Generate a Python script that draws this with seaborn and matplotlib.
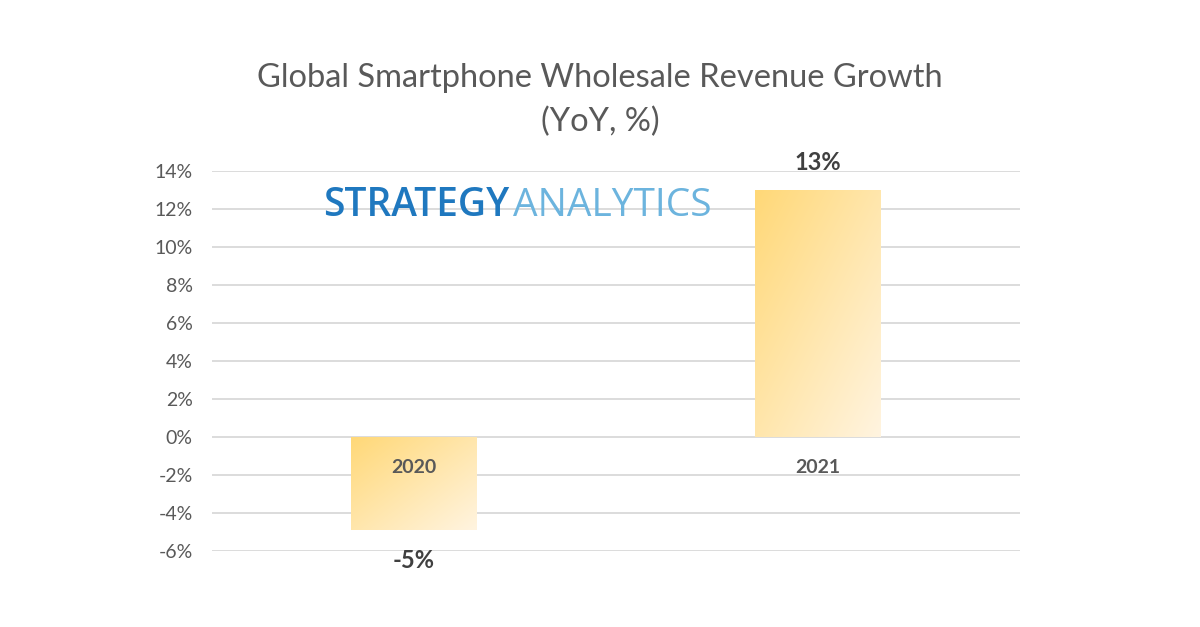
import numpy as np
import pandas as pd
import matplotlib
matplotlib.use("Agg")
import matplotlib.pyplot as plt
from matplotlib.colors import LinearSegmentedColormap
import seaborn as sns

# 数据
years = ["2020", "2021"]
growth = [-4.9, 13.0]
value_labels = ["-5%", "13%"]
y_ticks = [-6, -4, -2, 0, 2, 4, 6, 8, 10, 12, 14]

TEXT_GRAY = "#595959"
DARK_GRAY = "#404040"
GRID_GRAY = "#d9d9d9"

sns.set_theme(style="white")
plt.rcParams["font.family"] = ["Lato", "DejaVu Sans"]

df = pd.DataFrame({"year": years, "growth": growth})

fig = plt.figure(figsize=(12, 6.27), dpi=100)
ax = fig.add_axes([0.1767, 0.1212, 0.6733, 0.6061])

sns.barplot(data=df, x="year", y="growth", color="#ffe4a6", width=0.31,
            ax=ax, zorder=2)

# 渐变填充：左上深黄 -> 右下浅黄
grad_cmap = LinearSegmentedColormap.from_list("bar_grad", ["#ffd877", "#fff4e0"])
gx, gy = np.meshgrid(np.linspace(0, 1, 200), np.linspace(0, 1, 200))
grad = gx * 0.5 + gy * 0.5
for p in ax.patches:
    x0, y0 = p.get_x(), p.get_y()
    w, h = p.get_width(), p.get_height()
    ybot, ytop = min(y0, y0 + h), max(y0, y0 + h)
    p.set_facecolor("none")
    p.set_edgecolor("none")
    im = ax.imshow(grad, cmap=grad_cmap, extent=[x0, x0 + w, ybot, ytop],
                   origin="upper", aspect="auto", zorder=2, interpolation="bicubic")
    im.set_clip_path(p)

ax.set_xlim(-0.5, 1.5)
ax.set_ylim(-6, 14)
ax.set_yticks(y_ticks)
ax.set_yticklabels([f"{t}%" for t in y_ticks], fontsize=14, color=TEXT_GRAY)
ax.tick_params(axis="y", length=0, pad=14)
ax.set_xticks([])
ax.set_xlabel("")
ax.set_ylabel("")
for s in ax.spines.values():
    s.set_visible(False)
ax.yaxis.grid(True, color=GRID_GRAY, linewidth=1.3, zorder=0)
ax.set_axisbelow(True)

# 类别标签与数值标签
for i, (yr, v, lab) in enumerate(zip(years, growth, value_labels)):
    ax.text(i, -1.6, yr, ha="center", va="center", fontsize=14,
            fontweight="bold", color=TEXT_GRAY, zorder=3)
    off = 1.45 if v >= 0 else -1.6
    ax.text(i, v + off, lab, ha="center", va="center", fontsize=17,
            fontweight="bold", color=DARK_GRAY, clip_on=False)

# 标题
fig.text(0.5, 0.875, "Global Smartphone Wholesale Revenue Growth", ha="center",
         va="center", fontsize=23.5, color=TEXT_GRAY)
fig.text(0.5, 0.806, "(YoY, %)", ha="center", va="center", fontsize=23.5,
         color=TEXT_GRAY)

# 水印 logo
t1 = fig.text(323 / 1200, 0.671, "STRATEGY", ha="left", va="center", fontsize=28,
              color="#1f78bf", fontweight="semibold", family=["Open Sans", "DejaVu Sans"])
fig.canvas.draw()
bb = t1.get_window_extent()
fig.text(bb.x1 / 1200 + 0.003, 0.671, "ANALYTICS", ha="left", va="center", fontsize=28,
         color="#6cb4de", family=["Open Sans", "DejaVu Sans"])

fig.savefig("out.png", dpi=100)
